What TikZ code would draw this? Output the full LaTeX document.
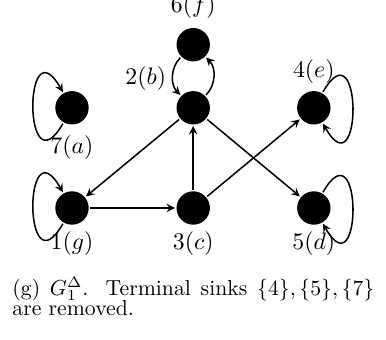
\documentclass[tikz,border=0pt]{standalone}
\usepackage{amsmath,amssymb}
\usepackage{tikz}
\usetikzlibrary{arrows,positioning}

\begin{document}
\begin{tikzpicture}[>=stealth,
    vertex/.style={circle, fill=black, minimum size=0.54cm, inner sep=0pt},
    lbl/.style={font=\fontsize{11}{13}\selectfont, inner sep=2pt, label distance=1pt},
    arc/.style={->, line width=0.7pt, shorten >=0.5pt, shorten <=0.5pt},
    selfloop/.style={looseness=1, min distance=1.3cm}]
    \useasboundingbox (-1.164,-2.134) rectangle (5.077,3.363);

    % Vertices
    \node[vertex, label={[lbl]below:$1(g)$}] (n1) at (0,0) {};
    \node[vertex, label={[lbl]below:$3(c)$}] (n3) at (1.96,0) {};
    \node[vertex, label={[lbl]below:$5(d)$}] (n5) at (3.91,0) {};
    \node[vertex, label={[lbl, label distance=2.5pt]below:$7(a)$}] (n7) at (0,1.62) {};
    \node[vertex, label={[lbl, label distance=4pt]150:$2(b)$}] (n2) at (1.96,1.62) {};
    \node[vertex, label={[lbl]above:$4(e)$}] (n4) at (3.91,1.62) {};
    \node[vertex, label={[lbl, label distance=2pt]above:$6(f)$}] (n6) at (1.96,2.64) {};

    % Arcs
    \draw[arc] (n2) -- (n1);
    \draw[arc] (n1) -- (n3);
    \draw[arc] (n3) -- (n2);
    \draw[arc] (n3) -- (n4);
    \draw[arc] (n2) -- (n5);
    \draw[arc] (n6) to[bend right=45] (n2);
    \draw[arc] (n2) to[bend right=45] (n6);

    % Self-loops
    \draw[arc] (n7) to[out=240, in=120, selfloop] (n7);
    \draw[arc] (n1) to[out=240, in=120, selfloop] (n1);
    \draw[arc] (n4) to[out=60, in=300, selfloop] (n4);
    \draw[arc] (n5) to[out=60, in=300, selfloop] (n5);

    % Caption
    \node[anchor=base west, text width=166.5pt, align=justify, inner sep=0pt,
          font=\fontsize{10}{9.6}\selectfont] (caption) at (-0.970,-1.407)
        {\lineskiplimit=-10pt (g) $G_1^{\Delta}$. Terminal sinks $\{4\},\{5\},\{7\}$ are removed.};
\end{tikzpicture}
\end{document}
